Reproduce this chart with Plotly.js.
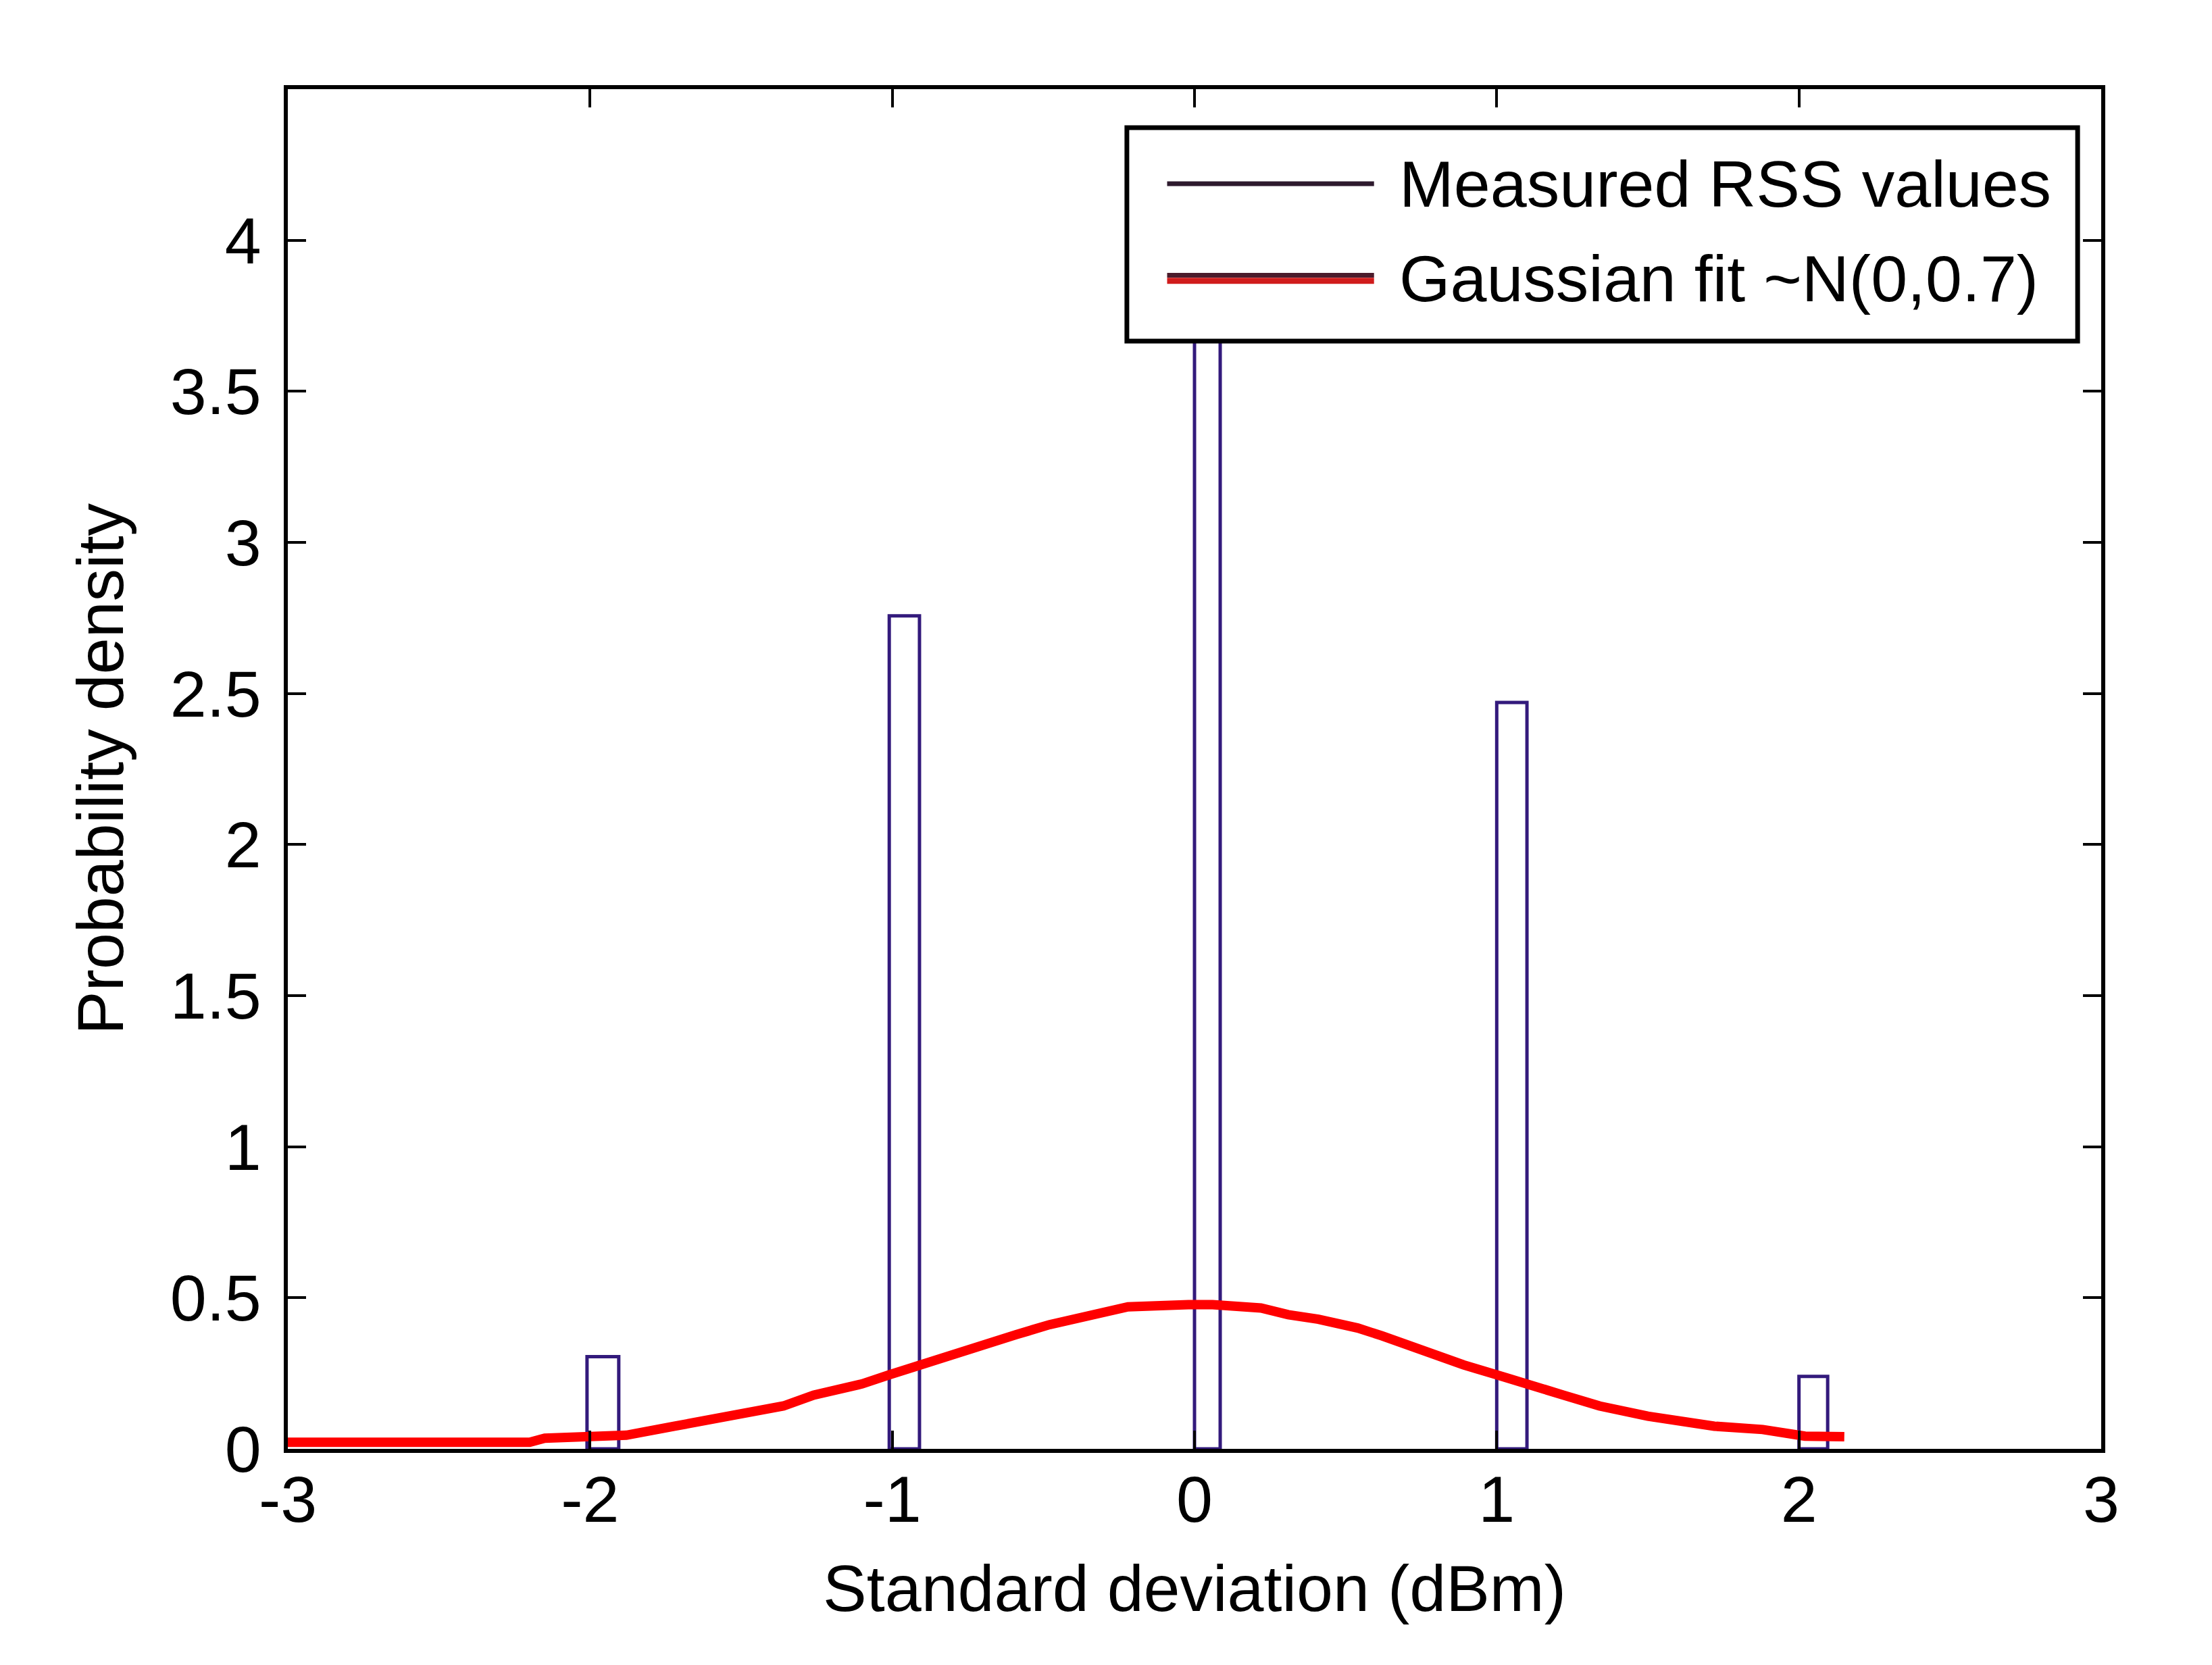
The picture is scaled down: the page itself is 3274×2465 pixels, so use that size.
<!DOCTYPE html>
<html>
<head>
<meta charset="utf-8">
<script src="https://cdn.plot.ly/plotly-3.0.1.min.js"></script>
<style>
  html, body { margin: 0; padding: 0; background: #ffffff; }
  #chart { width: 3274px; height: 2465px; }
</style>
</head>
<body>
<div id="chart"></div>
<script>
// ---- data ----
var binLeft   = [-2.01, -1.01, 0.00, 1.00, 2.00];
var binRight  = [-1.905, -0.91, 0.085, 1.10, 2.095];
var binDensity = [0.305, 2.757, 4.30, 2.47, 0.24];

var fitX = [-3.0, -2.2, -2.15, -1.88, -1.72, -1.54, -1.36, -1.26, -1.10, -1.01, -0.91, -0.80,
            -0.69, -0.59, -0.48, -0.34, -0.22, -0.02, 0.06, 0.22, 0.31, 0.41, 0.54, 0.62,
            0.71, 0.80, 0.89, 1.00, 1.12, 1.22, 1.34, 1.50, 1.72, 1.88, 2.02, 2.15];
var fitY = [0.022, 0.022, 0.035, 0.045, 0.075, 0.108, 0.142, 0.178, 0.215, 0.245, 0.278, 0.311,
            0.344, 0.378, 0.411, 0.444, 0.470, 0.477, 0.477, 0.466, 0.444, 0.429, 0.400, 0.374,
            0.341, 0.311, 0.278, 0.245, 0.212, 0.178, 0.142, 0.108, 0.075, 0.064, 0.042, 0.040];

var xTickVals = [-3, -2, -1, 0, 1, 2, 3];
var xTickText = ['-3', '-2', '-1', '0', '1', '2', '3'];
var yTickVals = [0, 0.5, 1, 1.5, 2, 2.5, 3, 3.5, 4];
var yTickText = ['0', '0.5', '1', '1.5', '2', '2.5', '3', '3.5', '4'];

var seriesNames = ['Measured RSS values', 'Gaussian fit ~N(0,0.7)'];
var xTitle = 'Standard deviation (dBm)';
var yTitle = 'Probability density';

// ---- derived bar geometry ----
var binCenter = binLeft.map(function (l, i) { return (l + binRight[i]) / 2; });
var binWidth  = binLeft.map(function (l, i) { return binRight[i] - l; });

var FONT = 'Liberation Sans, Arial, Helvetica, sans-serif';
var FS = 97;
var barColor = '#331a7c';
var fitColor = '#ff0000';

var traces = [
  {
    type: 'bar',
    name: seriesNames[0],
    x: binCenter,
    y: binDensity,
    width: binWidth,
    base: 0,
    marker: { color: 'rgba(255,255,255,1)', line: { color: barColor, width: 5 } },
    showlegend: false,
    hoverinfo: 'x+y'
  },
  {
    type: 'scatter',
    mode: 'lines',
    name: seriesNames[1],
    x: fitX,
    y: fitY,
    line: { color: fitColor, width: 14 },
    showlegend: false
  }
];

// custom legend (box, keys, labels) in paper coordinates
var lgX0 = 0.4627, lgX1 = 0.9870, lgY0 = 0.8147, lgY1 = 0.9717;
var keyX0 = 0.4849, keyX1 = 0.5990, key1Y = 0.9304, key2aY = 0.8631, key2bY = 0.8591;
var txt1Y = 0.9301, txt2Y = 0.8609, txtX = 0.6121;

var layout = {
  width: 3274,
  height: 2465,
  paper_bgcolor: '#ffffff',
  plot_bgcolor: '#ffffff',
  margin: { l: 426, r: 164, t: 132, b: 320, pad: 0 },
  font: { family: FONT, size: FS, color: '#000000' },
  showlegend: false,
  bargap: 0,
  xaxis: {
    range: [-3, 3],
    tickmode: 'array',
    tickvals: xTickVals,
    ticktext: xTickText,
    ticks: 'inside',
    ticklen: 27,
    tickwidth: 4,
    tickcolor: '#000000',
    showline: true,
    linecolor: '#000000',
    linewidth: 6,
    mirror: 'ticks',
    showgrid: false,
    zeroline: false,
    ticklabelstandoff: -14,
    tickfont: { family: FONT, size: FS, color: '#000000' },
    title: { text: xTitle, font: { family: FONT, size: FS, color: '#000000' }, standoff: 46 },
    automargin: false
  },
  yaxis: {
    range: [0, 4.5],
    tickmode: 'array',
    tickvals: yTickVals,
    ticktext: yTickText,
    ticks: 'inside',
    ticklen: 27,
    tickwidth: 4,
    tickcolor: '#000000',
    showline: true,
    linecolor: '#000000',
    linewidth: 6,
    mirror: 'ticks',
    showgrid: false,
    zeroline: false,
    ticklabelstandoff: 14,
    tickfont: { family: FONT, size: FS, color: '#000000' },
    title: { text: yTitle, font: { family: FONT, size: FS, color: '#000000' }, standoff: 39 },
    automargin: false
  },
  shapes: [
    { type: 'rect', xref: 'paper', yref: 'paper', x0: lgX0, x1: lgX1, y0: lgY0, y1: lgY1,
      fillcolor: '#ffffff', line: { color: '#000000', width: 7 }, layer: 'above' },
    { type: 'line', xref: 'paper', yref: 'paper', x0: keyX0, x1: keyX1, y0: key1Y, y1: key1Y,
      line: { color: '#2e1a2e', width: 7 }, layer: 'above' },
    { type: 'line', xref: 'paper', yref: 'paper', x0: keyX0, x1: keyX1, y0: key2aY, y1: key2aY,
      line: { color: '#4b1b2b', width: 7 }, layer: 'above' },
    { type: 'line', xref: 'paper', yref: 'paper', x0: keyX0, x1: keyX1, y0: key2bY, y1: key2bY,
      line: { color: '#d01c1c', width: 9 }, layer: 'above' }
  ],
  annotations: [
    { xref: 'paper', yref: 'paper', x: txtX, y: txt1Y, xanchor: 'left', yanchor: 'middle',
      text: seriesNames[0], showarrow: false, font: { family: FONT, size: FS, color: '#000000' } },
    { xref: 'paper', yref: 'paper', x: txtX, y: txt2Y, xanchor: 'left', yanchor: 'middle',
      text: seriesNames[1], showarrow: false, font: { family: FONT, size: FS, color: '#000000' } }
  ]
};

Plotly.newPlot('chart', traces, layout, { staticPlot: true, displayModeBar: false });
</script>
</body>
</html>
